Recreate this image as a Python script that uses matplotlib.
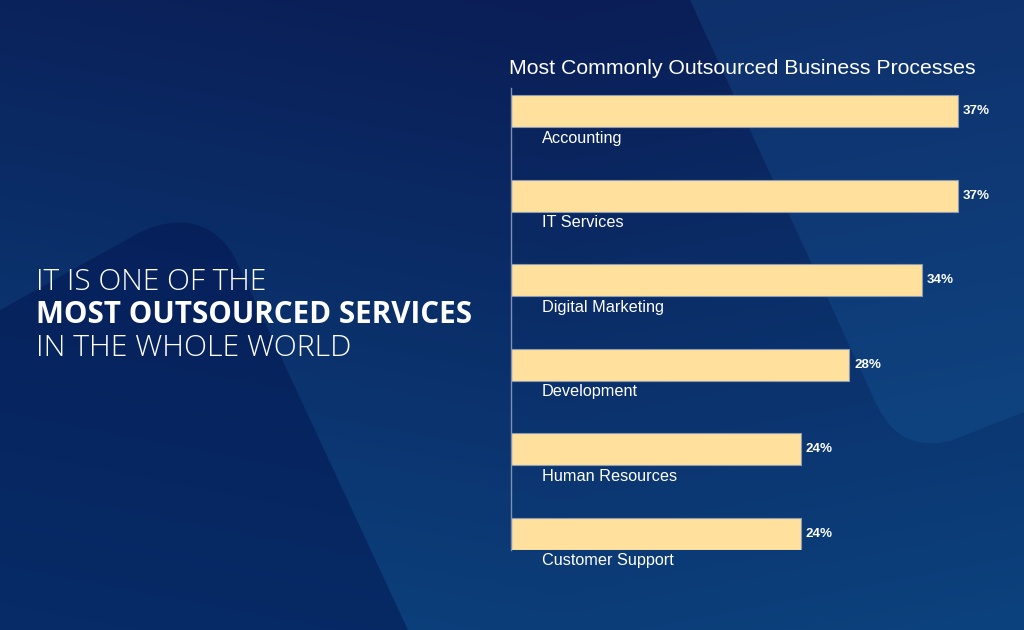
import matplotlib
matplotlib.use('Agg')
import matplotlib.pyplot as plt
import numpy as np
from matplotlib.path import Path
from matplotlib.patches import PathPatch
from matplotlib.colors import to_rgb

categories = ['Accounting', 'IT Services', 'Digital Marketing', 'Development',
              'Human Resources', 'Customer Support']
shares = [37, 37, 34, 28, 24, 24]
title = 'Most Commonly Outsourced Business Processes'
headline = ['IT IS ONE OF THE', 'MOST OUTSOURCED SERVICES', 'IN THE WHOLE WORLD']

W, H = 1024, 630
fig = plt.figure(figsize=(W / 100, H / 100), dpi=100)

# background
bg = fig.add_axes([0, 0, 1, 1])
bg.set_xlim(0, W)
bg.set_ylim(H, 0)
bg.axis('off')
yy, xx = np.mgrid[0:H, 0:W]
t = np.clip(0.8 * yy / H + 0.25 * np.abs(xx - 560) / W, 0, 1)[..., None]
c0 = np.array(to_rgb('#0a1d56'))
c1 = np.array(to_rgb('#0c4682'))
bg.imshow(c0 + (c1 - c0) * t, extent=[0, W, H, 0], aspect='auto', zorder=0)

mountain = Path(
    [(0, 630), (0, 310), (135, 235), (165, 218), (210, 212), (235, 258), (408, 630), (0, 630)],
    [Path.MOVETO, Path.LINETO, Path.LINETO, Path.CURVE4, Path.CURVE4, Path.CURVE4,
     Path.LINETO, Path.CLOSEPOLY])
bg.add_patch(PathPatch(mountain, facecolor='#031550', edgecolor='none', alpha=0.5, zorder=1))

right_shape = Path(
    [(690, 0), (870, 390), (890, 440), (915, 448), (950, 441), (1024, 412), (1024, 0), (690, 0)],
    [Path.MOVETO, Path.LINETO, Path.CURVE4, Path.CURVE4, Path.CURVE4,
     Path.LINETO, Path.LINETO, Path.CLOSEPOLY])
bg.add_patch(PathPatch(right_shape, facecolor='#1a66a8', edgecolor='none', alpha=0.25, zorder=1))

# headline on the left
fig.text(36 / W, 1 - 282 / H, headline[0], color='white', fontsize=21.5,
         family='Open Sans', weight='light', va='center')
fig.text(36 / W, 1 - 315 / H, headline[1], color='white', fontsize=21.3,
         family='Open Sans', weight='bold', va='center')
fig.text(36 / W, 1 - 348 / H, headline[2], color='white', fontsize=21.8,
         family='Open Sans', weight='light', va='center')

# bar chart
px = 12.08  # pixels per percent
ax = fig.add_axes([511 / W, 1 - 550 / H, 489 / W, 462 / H])
ax.patch.set_alpha(0)
ax.set_xlim(0, 489 / px)
ax.set_ylim(5.19, -0.272)
ypos = np.arange(len(categories))
ax.barh(ypos, shares, height=0.378, color='#ffe09d', edgecolor='#8c9bb4', linewidth=0.8)
for y, cat, v in zip(ypos, categories, shares):
    ax.text(31 / px, y + 0.32, cat, color='white', fontsize=11.7,
            family='Liberation Sans', va='center')
    ax.text(v + 5 / px, y, f'{v}%', color='white', fontsize=9.6, weight='bold',
            family='Liberation Sans', va='center')
for s in ['top', 'right', 'bottom']:
    ax.spines[s].set_visible(False)
ax.spines['left'].set_color('#7f90b0')
ax.spines['left'].set_linewidth(1)
ax.set_xticks([])
ax.set_yticks([])

fig.text(509 / W, 1 - 68 / H, title, color='white', fontsize=15.3,
         family='Liberation Sans', va='center')

fig.savefig('out.png', dpi=100)
